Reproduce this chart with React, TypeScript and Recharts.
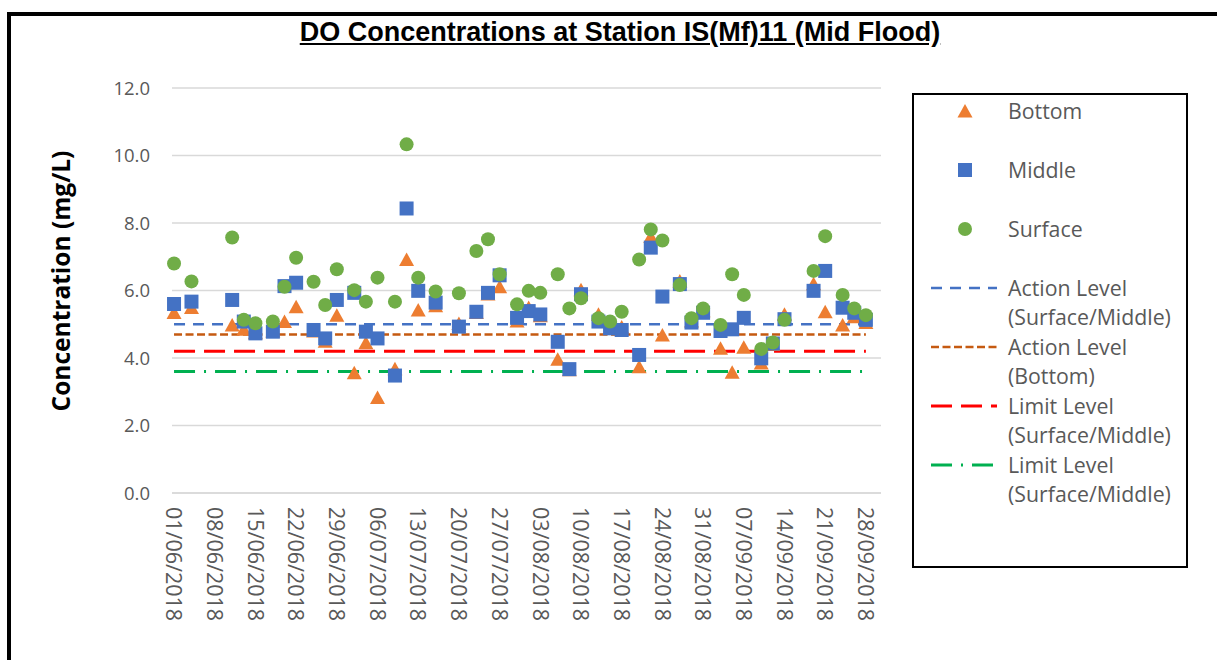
import { ComposedChart, Scatter, Line, XAxis, YAxis, CartesianGrid, Legend } from 'recharts';

// sampling days, counted from 01/06/2018
const DAYS = [0, 3, 10, 12, 14, 17, 19, 21, 24, 26, 28, 31, 33, 35, 38, 40, 42, 45, 49, 52, 54, 56, 59, 61, 63, 66, 68, 70, 73, 75, 77, 80, 82, 84, 87, 89, 91, 94, 96, 98, 101, 103, 105, 110, 112, 115, 117, 119];
const BOTTOM = [5.35, 5.5, 4.98, 4.85, 4.75, 4.8, 5.08, 5.52, 4.8, 4.5, 5.27, 3.56, 4.45, 2.83, 3.68, 6.92, 5.42, 5.55, 5.02, 5.35, 5.9, 6.11, 5.1, 5.5, 5.25, 3.96, 3.65, 6.02, 5.3, 4.88, 4.92, 3.74, 7.6, 4.68, 6.28, 5.1, 5.4, 4.29, 3.58, 4.32, 3.85, 4.4, 5.3, 6.2, 5.37, 4.98, 5.22, 5.05];
const MIDDLE = [5.6, 5.67, 5.72, 5.08, 4.73, 4.78, 6.13, 6.23, 4.83, 4.58, 5.72, 5.93, 4.78, 4.58, 3.48, 8.43, 5.99, 5.64, 4.93, 5.37, 5.93, 6.45, 5.19, 5.39, 5.29, 4.48, 3.67, 5.89, 5.08, 4.88, 4.83, 4.09, 7.27, 5.82, 6.19, 5.05, 5.34, 4.8, 4.85, 5.19, 3.99, 4.43, 5.15, 5.99, 6.58, 5.49, 5.34, 5.13];
const SURFACE = [6.8, 6.27, 7.57, 5.13, 5.03, 5.08, 6.11, 6.97, 6.26, 5.57, 6.63, 6.01, 5.67, 6.38, 5.67, 10.33, 6.38, 5.97, 5.92, 7.17, 7.52, 6.48, 5.59, 5.99, 5.93, 6.48, 5.47, 5.77, 5.18, 5.08, 5.37, 6.92, 7.81, 7.48, 6.16, 5.18, 5.47, 4.98, 6.48, 5.87, 4.27, 4.46, 5.13, 6.58, 7.61, 5.87, 5.47, 5.27];

const ACTION_SM = 5.0;
const ACTION_B = 4.7;
const LIMIT_SM = 4.2;
const LIMIT_SM_2 = 3.6;

const X_TICKS = [0, 7, 14, 21, 28, 35, 42, 49, 56, 63, 70, 77, 84, 91, 98, 105, 112, 119];
const Y_TICKS = [0, 2, 4, 6, 8, 10, 12];

const ORANGE = '#ED7D31';
const BLUE = '#4472C4';
const GREEN = '#70AD47';
const GREY = '#595959';
const FONT = '"Open Sans", sans-serif';

const rows = DAYS.map((day, i) => ({
  day,
  bottom: BOTTOM[i],
  middle: MIDDLE[i],
  surface: SURFACE[i],
  actionSM: ACTION_SM,
  actionB: ACTION_B,
  limitSM: LIMIT_SM,
  limitSM2: LIMIT_SM_2,
}));

const pad = (n: number) => String(n).padStart(2, '0');
const fmtDate = (d: number) => {
  const dt = new Date(2018, 5, 1 + d);
  return `${pad(dt.getDate())}/${pad(dt.getMonth() + 1)}/${dt.getFullYear()}`;
};

const Triangle = ({ cx, cy }: any) => (
  <path d={`M${cx},${cy - 7} L${cx + 7.5},${cy + 6.5} L${cx - 7.5},${cy + 6.5} Z`} fill={ORANGE} />
);
const Square = ({ cx, cy }: any) => <rect x={cx - 7} y={cy - 7} width={14} height={14} fill={BLUE} />;
const Dot = ({ cx, cy }: any) => <circle cx={cx} cy={cy} r={7} fill={GREEN} />;

const DateTick = ({ x, y, payload }: any) => (
  <text x={x} y={y} dy="0.36em" transform={`rotate(90, ${x}, ${y})`} textAnchor="start"
    fill={GREY} fontSize={21.5} fontFamily={FONT}>
    {fmtDate(payload.value)}
  </text>
);

const YTitle = () => (
  <text x={60} y={281} transform="rotate(-90, 60, 281)" textAnchor="middle" dominantBaseline="central"
    fontSize={24.5} fontWeight={700} fontFamily={FONT} fill="#000">
    Concentration (mg/L)
  </text>
);

const legendItems = [
  { name: 'Bottom', kind: 'triangle' },
  { name: 'Middle', kind: 'square' },
  { name: 'Surface', kind: 'dot' },
  { name: ['Action Level', '(Surface/Middle)'], kind: 'line', color: BLUE, dash: '11 8', w: 2.5 },
  { name: ['Action Level', '(Bottom)'], kind: 'line', color: '#C55A11', dash: '8 3.5', w: 2.5 },
  { name: ['Limit Level', '(Surface/Middle)'], kind: 'line', color: '#FF0000', dash: '21 9', w: 3 },
  { name: ['Limit Level', '(Surface/Middle)'], kind: 'line', color: '#00B050', dash: '21 9 2 9', w: 3 },
];

const LegendIcon = ({ item }: any) => {
  let icon = null;
  if (item.kind === 'triangle') icon = <Triangle cx={51} cy={15} />;
  else if (item.kind === 'square') icon = <Square cx={51} cy={15} />;
  else if (item.kind === 'dot') icon = <Dot cx={51} cy={15} />;
  else icon = <line x1={17} x2={83} y1={15} y2={15} stroke={item.color} strokeWidth={item.w} strokeDasharray={item.dash} />;
  return <svg width={94} height={30} style={{ flex: 'none' }}>{icon}</svg>;
};

const LegendBox = () => (
  <div style={{ width: 276, height: 475, boxSizing: 'border-box', border: '2px solid #000', background: '#fff', paddingTop: 0.5 }}>
    {legendItems.map((it, i) => {
      const lines = Array.isArray(it.name) ? it.name : [it.name];
      return (
        <div key={i} style={{ display: 'flex', alignItems: 'flex-start', height: 59 }}>
          <LegendIcon item={it} />
          <div style={{ fontFamily: FONT, fontSize: 21.3, color: GREY, lineHeight: '29.5px', whiteSpace: 'nowrap' }}>
            {lines.map((l, j) => <div key={j}>{l}</div>)}
          </div>
        </div>
      );
    })}
  </div>
);

export default function App() {
  return (
    <div style={{ position: 'absolute', left: 0, top: 0, width: 1217, height: 660, overflow: 'hidden', background: '#fff' }}>
      <div style={{ position: 'absolute', left: 7, top: 12, width: 1400, height: 900, border: '4px solid #000', boxSizing: 'border-box' }} />
      <div style={{
        position: 'absolute', left: 0, top: 19, width: 1240, textAlign: 'center',
        fontFamily: '"Liberation Sans", Arial, sans-serif', fontWeight: 700, fontSize: 27, lineHeight: '27px',
        textDecoration: 'underline', color: '#000',
      }}>
        DO Concentrations at Station IS(Mf)11 (Mid Flood)
      </div>
      <div style={{ position: 'absolute', left: 0, top: 0 }}>
        <ComposedChart width={1217} height={660} data={rows} margin={{ top: 88, right: 336, bottom: 37, left: 112 }}>
          <CartesianGrid vertical={false} stroke="#D9D9D9" strokeWidth={1.5} />
          <XAxis dataKey="day" type="number" domain={[-0.35, 121.6]} ticks={X_TICKS} interval={0}
            tick={<DateTick />} tickLine={false} tickSize={0} tickMargin={14} height={130}
            axisLine={{ stroke: '#D9D9D9', strokeWidth: 1.5 }} />
          <YAxis type="number" domain={[0, 12]} ticks={Y_TICKS} width={60} axisLine={false} tickLine={false}
            tickSize={0} tickMargin={22} tickFormatter={(v) => v.toFixed(1)}
            tick={{ fill: GREY, fontSize: 18.5, fontFamily: FONT }} label={<YTitle />} />
          <Legend layout="vertical" align="center" verticalAlign="middle" content={<LegendBox />}
            wrapperStyle={{ left: 912, top: 93, width: 276, height: 475 }} />
          <Line dataKey="actionSM" name="Action Level (Surface/Middle)" stroke={BLUE} strokeWidth={2.5} strokeDasharray="11 8" dot={false} isAnimationActive={false} />
          <Line dataKey="actionB" name="Action Level (Bottom)" stroke="#C55A11" strokeWidth={2.5} strokeDasharray="8 3.5" dot={false} isAnimationActive={false} />
          <Line dataKey="limitSM" name="Limit Level (Surface/Middle)" stroke="#FF0000" strokeWidth={3} strokeDasharray="21 9" dot={false} isAnimationActive={false} />
          <Line dataKey="limitSM2" name="Limit Level (Surface/Middle)" stroke="#00B050" strokeWidth={3} strokeDasharray="21 9 2 9" dot={false} isAnimationActive={false} />
          <Scatter dataKey="bottom" name="Bottom" fill={ORANGE} shape={<Triangle />} isAnimationActive={false} />
          <Scatter dataKey="middle" name="Middle" fill={BLUE} shape={<Square />} isAnimationActive={false} />
          <Scatter dataKey="surface" name="Surface" fill={GREEN} shape={<Dot />} isAnimationActive={false} />
        </ComposedChart>
      </div>
    </div>
  );
}
